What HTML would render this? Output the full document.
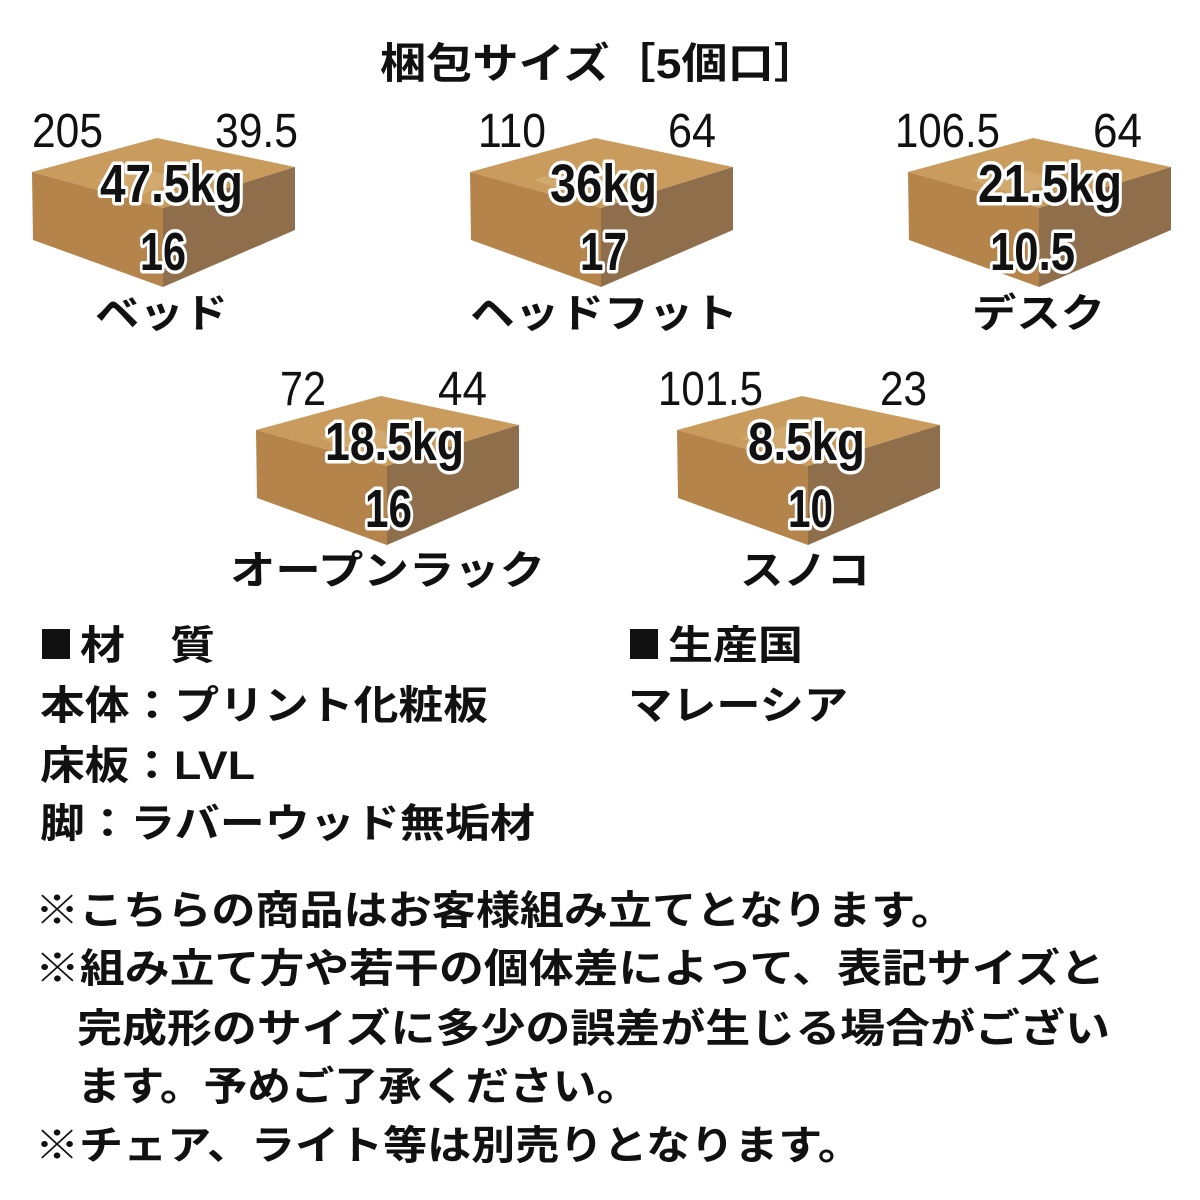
<!DOCTYPE html>
<html><head><meta charset="utf-8"><style>
html,body{margin:0;padding:0;background:#fff}
svg{display:block}
.j{font-family:"Liberation Sans","Noto Sans CJK JP",sans-serif;font-weight:700;fill:#111}
.k{font-family:"Noto Sans CJK JP",sans-serif}
.n{font-family:"Liberation Sans Narrow","Liberation Sans",sans-serif;fill:#111}
.o{font-family:"Liberation Sans Narrow","Liberation Sans",sans-serif;font-weight:700;fill:#111;stroke:#fff;stroke-width:7;paint-order:stroke;stroke-linejoin:round}
</style></head><body>
<svg width="1200" height="1200" viewBox="0 0 1200 1200" xmlns="http://www.w3.org/2000/svg">
<defs>
<g id="box">
<polygon points="32,172 157,138 295,167 163,208" fill="#c99c5e"/>
<polygon points="32,172 163,208 163,287 33,240" fill="#b5844a"/>
<polygon points="163,208 295,167 295,230 163,287" fill="#8f6e4c"/>
<polygon points="95,180 140,168 185,180 140,195" fill="#d7b17a" opacity="0.6"/>
</g>
</defs>
<text class="j" x="380" y="78" font-size="42" textLength="440" lengthAdjust="spacingAndGlyphs">梱包サイズ［5個口］</text>

<use href="#box"/>
<use href="#box" x="438"/>
<use href="#box" x="876"/>
<use href="#box" x="224" y="258"/>
<use href="#box" x="645" y="258"/>

<g font-size="48">
<text class="n" x="32" y="147" textLength="71" lengthAdjust="spacingAndGlyphs">205</text>
<text class="n" x="215" y="147" textLength="83" lengthAdjust="spacingAndGlyphs">39.5</text>
<text class="n" x="478" y="147" textLength="68" lengthAdjust="spacingAndGlyphs">110</text>
<text class="n" x="668" y="147" textLength="48" lengthAdjust="spacingAndGlyphs">64</text>
<text class="n" x="895" y="147" textLength="105" lengthAdjust="spacingAndGlyphs">106.5</text>
<text class="n" x="1093" y="147" textLength="49" lengthAdjust="spacingAndGlyphs">64</text>
<text class="n" x="280" y="405" textLength="46" lengthAdjust="spacingAndGlyphs">72</text>
<text class="n" x="438" y="405" textLength="49" lengthAdjust="spacingAndGlyphs">44</text>
<text class="n" x="658" y="405" textLength="105" lengthAdjust="spacingAndGlyphs">101.5</text>
<text class="n" x="880" y="405" textLength="47" lengthAdjust="spacingAndGlyphs">23</text>
</g>
<g font-size="54">
<text class="o" x="100" y="202" textLength="143" lengthAdjust="spacingAndGlyphs">47.5kg</text>
<text class="o" x="140" y="270" textLength="46" lengthAdjust="spacingAndGlyphs">16</text>
<text class="o" x="550" y="202" textLength="107" lengthAdjust="spacingAndGlyphs">36kg</text>
<text class="o" x="580" y="270" textLength="47" lengthAdjust="spacingAndGlyphs">17</text>
<text class="o" x="978" y="202" textLength="144" lengthAdjust="spacingAndGlyphs">21.5kg</text>
<text class="o" x="990" y="270" textLength="85" lengthAdjust="spacingAndGlyphs">10.5</text>
<text class="o" x="325" y="460" textLength="139" lengthAdjust="spacingAndGlyphs">18.5kg</text>
<text class="o" x="365" y="527" textLength="47" lengthAdjust="spacingAndGlyphs">16</text>
<text class="o" x="748" y="460" textLength="117" lengthAdjust="spacingAndGlyphs">8.5kg</text>
<text class="o" x="788" y="527" textLength="45" lengthAdjust="spacingAndGlyphs">10</text>
</g>

<g font-size="40">
<text class="j" x="95" y="327" textLength="133" lengthAdjust="spacingAndGlyphs">ベッド</text>
<text class="j" x="470" y="327" textLength="268" lengthAdjust="spacingAndGlyphs">ヘッドフット</text>
<text class="j" x="972" y="327" textLength="133" lengthAdjust="spacingAndGlyphs">デスク</text>
<text class="j" x="230" y="584" textLength="315" lengthAdjust="spacingAndGlyphs">オープンラック</text>
<text class="j" x="740" y="584" textLength="130" lengthAdjust="spacingAndGlyphs">スノコ</text>

<rect x="42" y="629" width="28" height="30" fill="#111"/>
<text class="j" x="80" y="659" textLength="135" lengthAdjust="spacingAndGlyphs">材　質</text>
<text class="j" x="40" y="719" textLength="448" lengthAdjust="spacingAndGlyphs">本体：プリント化粧板</text>
<text class="j" x="40" y="779" textLength="215" lengthAdjust="spacingAndGlyphs">床板：LVL</text>
<text class="j" x="40" y="837" textLength="495" lengthAdjust="spacingAndGlyphs">脚：ラバーウッド無垢材</text>
<rect x="630" y="629" width="28" height="30" fill="#111"/>
<text class="j" x="668" y="659" textLength="135" lengthAdjust="spacingAndGlyphs">生産国</text>
<text class="j" x="628" y="719" textLength="220" lengthAdjust="spacingAndGlyphs">マレーシア</text>

<text class="j" x="35" y="924" textLength="920" lengthAdjust="spacingAndGlyphs">※こちらの商品はお客様組み立てとなります。</text>
<text class="j" x="35" y="982" textLength="1070" lengthAdjust="spacingAndGlyphs">※組み立て方や若干の個体差によって、表記サイズと</text>
<text class="j" x="77" y="1042" textLength="1033" lengthAdjust="spacingAndGlyphs">完成形のサイズに多少の誤差が生じる場合がござい</text>
<text class="j" x="77" y="1100" textLength="563" lengthAdjust="spacingAndGlyphs">ます。予めご了承ください。</text>
<text class="j" x="35" y="1159" textLength="827" lengthAdjust="spacingAndGlyphs">※チェア、ライト等は別売りとなります。</text>
</g>
</svg>
</body></html>
